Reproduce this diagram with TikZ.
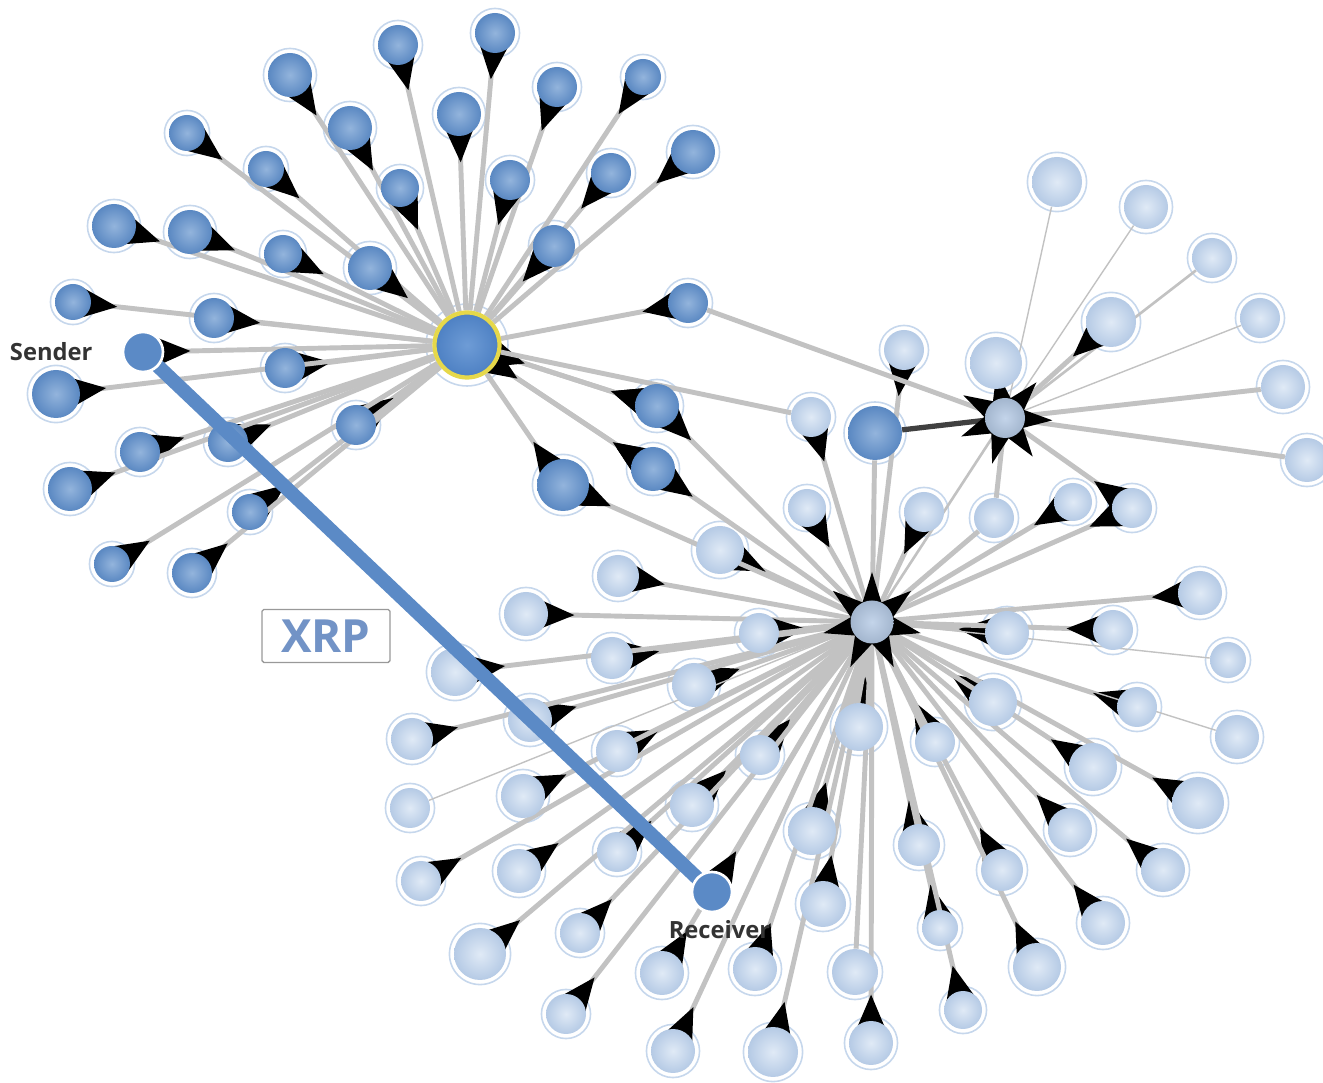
\documentclass[tikz,border=0pt]{standalone}
\usepackage{fontspec}
\newfontfamily\labelfont{Open Sans}
\usetikzlibrary{arrows.meta,positioning,shapes.geometric,backgrounds}
\pgfdeclarelayer{rings}
\pgfdeclarelayer{front}
\pgfsetlayers{rings,background,main,front}
\definecolor{darkin}{HTML}{93B4DC}
\definecolor{darkout}{HTML}{5A88C2}
\definecolor{lightin}{HTML}{E0EAF6}
\definecolor{lightout}{HTML}{B5CAE5}
\definecolor{ringc}{HTML}{C6D7EC}
\definecolor{hubin}{HTML}{6E9CD6}
\definecolor{hubout}{HTML}{4D80C3}
\definecolor{hubring}{HTML}{E6D84A}
\definecolor{xrpblue}{HTML}{5B8AC6}
\definecolor{xrptext}{HTML}{7293C6}
\definecolor{edgegray}{HTML}{C2C2C2}
\begin{document}
\begin{tikzpicture}[x=0.2mm,y=-0.2mm,
    ball/.style={circle,inner sep=0pt,shading=radial},
    dnode/.style={ball,inner color=darkin,outer color=darkout},
    lnode/.style={ball,inner color=lightin,outer color=lightout},
    ringfill/.style={fill=white,draw=ringc,line width=0.9pt},
    edge/.style={draw=edgegray,line width=2.8pt},
    thinedge/.style={draw=edgegray,line width=0.8pt},
    midedge/.style={draw=edgegray,line width=1.5pt},
    darkedge/.style={draw=black!75,line width=3pt},
    tail/.style={edge,{Triangle[reversed,length=20pt,width=16pt,color=black]}-,shorten <=-5pt},
    tails/.style={edge,{Triangle[reversed,length=20pt,width=16pt,color=black]}-{Triangle[reversed,length=20pt,width=16pt,color=black]},
      shorten <=-5pt,shorten >=-5pt},
    hubstar/.style={star,star points=7,star point ratio=2.3,fill=black,inner sep=0pt},
    endnode/.style={circle,inner sep=0pt,minimum size=8mm,fill=xrpblue,draw=white,line width=1.5pt},
    lbl/.style={font=\labelfont\bfseries\fontsize{13.5}{15}\selectfont,text=black!80},
    xrpbox/.style={draw=black!40,line width=0.8pt,fill=white,rounded corners=1pt,
      minimum width=25.6mm,minimum height=10.6mm,
      font=\labelfont\bfseries\fontsize{26}{28}\selectfont,text=xrptext}]
  \useasboundingbox (0,0) rectangle (1323,1083);

  % hubs
  \node[hubstar,minimum size=19mm,rotate=10] (starB) at (1005,418) {};
  \node[hubstar,minimum size=20mm] (starC) at (872,622) {};
  \node[circle,inner sep=0pt,minimum size=13mm,shading=radial,inner color=hubin,outer color=hubout,
    draw=hubring,line width=2.4pt] (A) at (467,345) {};
  \node[ball,minimum size=8mm,inner color=lightout!80,outer color=lightout!90!black] (B) at (1005,418) {};
  \node[ball,minimum size=8.6mm,inner color=lightout!80,outer color=lightout!90!black] (C) at (872,622) {};
  \node[dnode,minimum size=10.8mm] (m1) at (875,433) {};
  \begin{pgfonlayer}{rings}
    \draw[ringfill] (A.center) circle[radius=8.2mm];
    \draw[ringfill] (m1.center) circle[radius=6.2mm];
  \end{pgfonlayer}

  % sender and receiver
  \begin{pgfonlayer}{front}
    \node[endnode] (sender) at (143,352) {};
    \node[endnode] (receiver) at (712,892) {};
    \node[lbl,left=4.6mm of sender] (sendlbl) {Sender};
    \node[lbl,below=0.2mm of receiver,xshift=1.5mm] (reclbl) {Receiver};
  \end{pgfonlayer}

  % dark cluster
  \foreach \n/\x/\y/\r in {d1/290/75/22,d2/398/45/20,d3/495/33/20,d4/557/87/20,d5/643/77/18,
      d6/187/133/18,d7/266/169/18,d8/350/128/22,d9/459/114/22,d10/400/188/19,d11/510/180/20,
      d12/611/173/20,d13/693/152/22,d14/114/226/22,d15/190/232/22,d16/283/254/19,d17/370/268/22,
      d18/554/246/21,d19/73/302/18,d20/214/318/20,d21/285/368/20,d22/688/303/20,d23/56/394/24,
      d24/140/452/20,d25/228/442/20,d26/356/425/20,d27/657/406/22,d28/653/469/22,d29/563/485/26,
      d30/70/489/22,d31/250/512/18,d32/112/564/18,d33/192/573/20} {
    \node[dnode,minimum size=\r*0.4mm] (\n) at (\x,\y) {};
    \begin{pgfonlayer}{rings}
      \draw[ringfill] (\n.center) circle[radius=\r*0.2mm+2.6pt];
    \end{pgfonlayer}
    \begin{pgfonlayer}{background}
      \draw[tail] (\n) -- (A);
    \end{pgfonlayer}
  }

  % light cluster
  \foreach \n/\x/\y/\r/\s in {l1/720/550/24/tail,l2/618/576/21/tail,l3/526/614/22/tail,
      l4/759/633/20/tail,l5/612/658/21/tail,l6/455/672/24/tail,l7/694/685/22/tail,
      l8/530/720/22/tail,l9/412/739/21/tail,l10/859/727/24/tail,l11/617/751/21/tail,
      l12/760/755/20/tail,l13/410/808/20/thinedge,l14/523/796/22/tail,l15/692/805/22/tail,
      l16/812/831/24/tail,l17/919/845/21/tail,l18/421/881/20/tail,l19/519/871/22/tail,
      l20/617/852/20/tail,l21/823/904/23/tail,l22/580/933/20/tail,l23/480/954/26/tail,
      l24/662/973/22/tail,l25/755/969/22/tail,l26/855/972/23/edge,l27/566/1014/20/tail,
      l28/673/1051/22/tail,l29/773/1052/25/tail,l30/871/1043/22/tail,l31/1200/593/22/tail,
      l32/1007/633/22/tail,l33/1113/630/20/tail,l34/1228/660/18/thinedge,l35/993/702/24/tail,
      l36/1137/707/20/tail,l37/1237/737/22/thinedge,l38/935/742/20/tail,l39/1093/767/24/tail,
      l40/1198/803/26/tail,l42/1070/830/22/tail,l43/1002/870/21/tail,l44/1163/870/22/tail,
      l45/940/928/18/tail,l46/1103/923/22/tail,l47/1037/967/24/tail,l48/963/1010/19/tail,
      l50/811/417/20/tail,l51/904/350/20/tail,l52/807/508/19/tail,l53/924/512/20/tail,
      l54/994/518/20/edge,l55/1073/502/19/tail,l56/1132/508/20/tail} {
    \node[lnode,minimum size=\r*0.4mm] (\n) at (\x,\y) {};
    \begin{pgfonlayer}{rings}
      \draw[ringfill] (\n.center) circle[radius=\r*0.2mm+2.6pt];
    \end{pgfonlayer}
    \begin{pgfonlayer}{background}
      \draw[\s] (\n) -- (C);
    \end{pgfonlayer}
  }

  % second hub
  \foreach \n/\x/\y/\r/\s in {b1/1057/182/25/thinedge,b2/1146/207/22/thinedge,b3/1212/258/20/midedge,
      b4/1111/322/25/tail,b5/1260/318/20/thinedge,b6/996/363/26/edge,b7/1283/387/22/edge,
      b8/1307/460/22/edge} {
    \node[lnode,minimum size=\r*0.4mm] (\n) at (\x,\y) {};
    \begin{pgfonlayer}{rings}
      \draw[ringfill] (\n.center) circle[radius=\r*0.2mm+2.6pt];
    \end{pgfonlayer}
    \begin{pgfonlayer}{background}
      \draw[\s] (\n) -- (B);
    \end{pgfonlayer}
  }

  \begin{pgfonlayer}{background}
    \draw[tail] (sender) -- (A);
    \draw[tail] (receiver) -- (C);
    \draw[tails] (d27) -- (A);
    \draw[tails] (d28) -- (A);
    \draw[tail] (d27) -- (C);
    \draw[tail] (d28) -- (C);
    \draw[tail] (d29) -- (C);
    \draw[edge] (A) -- (l50);
    \draw[edge] (d22) -- (B);
    \draw[darkedge] (m1) -- (B);
    \draw[edge] (m1) -- (C);
    \draw[edge] (l54) -- (B);
    \draw[tail] (l56) -- (B);
    \draw[midedge] (B) -- (C);
  \end{pgfonlayer}

  % payment path
  \draw[xrpblue,line width=8pt] (sender.center) -- (receiver.center);
  \node[xrpbox] (xrp) at (326,636) {XRP};
\end{tikzpicture}
\end{document}
